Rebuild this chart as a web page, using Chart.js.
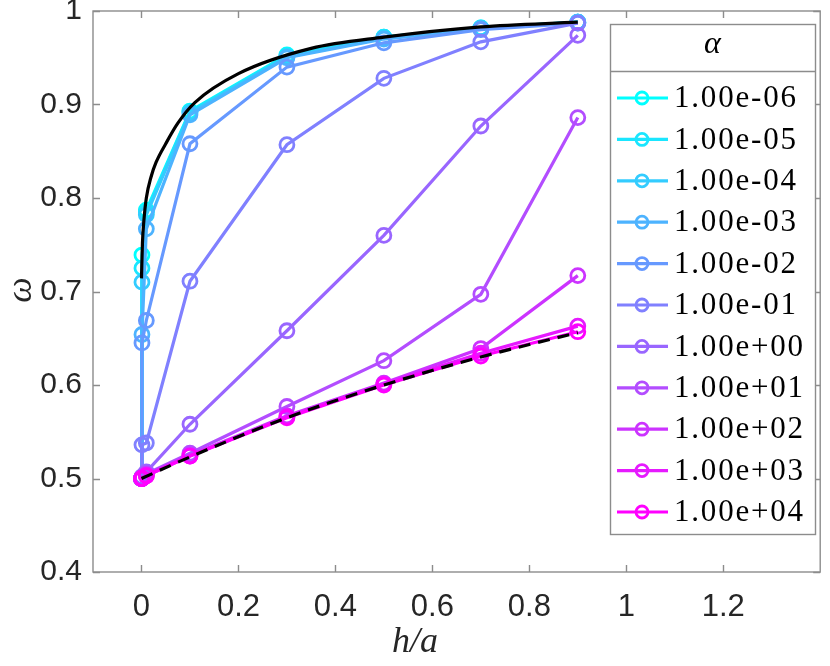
<!DOCTYPE html>
<html><head><meta charset="utf-8">
<script src="https://cdn.jsdelivr.net/npm/chart.js@4.4.1/dist/chart.umd.min.js"></script>
<style>html,body{margin:0;padding:0;background:#fff;}</style>
</head><body>
<canvas id="c" width="830" height="666"></canvas>
<script>
// ---------- data ----------
const H = [0, 0.001, 0.01, 0.1, 0.3, 0.5, 0.7, 0.9];
const alphaLabels = ['1.00e-06','1.00e-05','1.00e-04','1.00e-03','1.00e-02','1.00e-01','1.00e+00','1.00e+01','1.00e+02','1.00e+03','1.00e+04'];
const seriesColors = ['#00ffff','#1ae6ff','#33ccff','#4db3ff','#6699ff','#8080ff','#9966ff','#b34dff','#cc33ff','#e61aff','#ff00ff'];
const w_1e_06 = [0.5, 0.739, 0.787, 0.893, 0.953, 0.972, 0.982, 0.988];
const w_1e_05 = [0.5, 0.725, 0.785, 0.892, 0.952, 0.972, 0.982, 0.988];
const w_1e_04 = [0.5, 0.710, 0.782, 0.891, 0.951, 0.971, 0.981, 0.988];
const w_1e_03 = [0.5, 0.654, 0.767, 0.889, 0.950, 0.970, 0.981, 0.988];
const w_1e_02 = [0.5, 0.645, 0.669, 0.858, 0.940, 0.966, 0.980, 0.987];
const w_1e_01 = [0.5, 0.536, 0.538, 0.711, 0.857, 0.928, 0.967, 0.987];
const w_1e00  = [0.5, 0.502, 0.507, 0.558, 0.658, 0.760, 0.877, 0.974];
const w_1e01  = [0.5, 0.501, 0.505, 0.527, 0.577, 0.626, 0.697, 0.886];
const w_1e02  = [0.5, 0.500, 0.504, 0.525, 0.567, 0.602, 0.639, 0.717];
const w_1e03  = [0.5, 0.500, 0.503, 0.524, 0.566, 0.601, 0.634, 0.663];
const w_1e04  = [0.5, 0.500, 0.503, 0.524, 0.565, 0.600, 0.631, 0.657];
const seriesValues = [w_1e_06, w_1e_05, w_1e_04, w_1e_03, w_1e_02, w_1e_01, w_1e00, w_1e01, w_1e02, w_1e03, w_1e04];

// limit curves
const limitLowX = [0, 0.002, 0.005, 0.01, 0.02, 0.03, 0.05, 0.075, 0.11, 0.2, 0.35, 0.5, 0.7, 0.9];
const limitLowY = [0.714, 0.752, 0.776, 0.800, 0.823, 0.838, 0.858, 0.880, 0.902, 0.933, 0.960, 0.972, 0.983, 0.988];
const limitHighX = [0, 0.1, 0.3, 0.5, 0.7, 0.9];
const limitHighY = [0.5, 0.523, 0.565, 0.600, 0.630, 0.656];

const xTicks = [0, 0.2, 0.4, 0.6, 0.8, 1, 1.2];
const yTicks = [0.4, 0.5, 0.6, 0.7, 0.8, 0.9, 1];

// ---------- datasets ----------
const datasets = seriesValues.map((vals, i) => ({
  label: alphaLabels[i],
  data: H.map((h, k) => ({x: h, y: vals[k]})),
  borderColor: seriesColors[i],
  backgroundColor: 'transparent',
  borderWidth: 3.2,
  pointRadius: 7,
  pointBorderWidth: 2.8,
  pointBackgroundColor: 'transparent',
  pointBorderColor: seriesColors[i],
  tension: 0,
  order: 20 - i
}));
datasets.push({
  label: 'lowlimit',
  data: limitLowX.map((x, k) => ({x, y: limitLowY[k]})),
  borderColor: '#000', borderWidth: 3.2, pointRadius: 0,
  cubicInterpolationMode: 'monotone', order: 1
});
datasets.push({
  label: 'highlimit',
  data: limitHighX.map((x, k) => ({x, y: limitHighY[k]})),
  borderColor: '#000', borderWidth: 3.2, pointRadius: 0, borderDash: [12, 8],
  cubicInterpolationMode: 'monotone', order: 0
});

// ---------- plugin: box, inward ticks, legend, titles ----------
const framePlugin = {
  id: 'frame',
  afterDraw(chart) {
    const ctx = chart.ctx, a = chart.chartArea;
    const xs = chart.scales.x, ys = chart.scales.y;
    ctx.save();
    // box
    ctx.strokeStyle = '#8c8c8c';
    ctx.lineWidth = 1.4;
    ctx.strokeRect(a.left, a.top, a.right - a.left, a.bottom - a.top);
    // ticks inward
    const tl = 7;
    ctx.beginPath();
    xTicks.forEach(v => {
      const px = Math.round(xs.getPixelForValue(v)) + 0.5;
      ctx.moveTo(px, a.bottom); ctx.lineTo(px, a.bottom - tl);
      ctx.moveTo(px, a.top); ctx.lineTo(px, a.top + tl);
    });
    yTicks.forEach(v => {
      const py = Math.round(ys.getPixelForValue(v)) + 0.5;
      ctx.moveTo(a.left, py); ctx.lineTo(a.left + tl, py);
      ctx.moveTo(a.right, py); ctx.lineTo(a.right - tl, py);
    });
    ctx.stroke();

    // legend
    const L = 610, R = 815, T = 24, B = 534, sep = 71;
    ctx.fillStyle = '#fff';
    ctx.fillRect(L, T, R - L, B - T);
    ctx.strokeStyle = '#8c8c8c';
    ctx.lineWidth = 1.4;
    ctx.strokeRect(L + 0.5, T + 0.5, R - L, B - T);
    ctx.beginPath(); ctx.moveTo(L, sep + 0.5); ctx.lineTo(R, sep + 0.5); ctx.stroke();
    ctx.fillStyle = '#000';
    ctx.font = 'italic 32px "Liberation Serif"';
    ctx.textAlign = 'center'; ctx.textBaseline = 'middle';
    ctx.fillText('α', (L + R) / 2, 45);
    ctx.font = '31px "Liberation Serif"';
    ctx.textAlign = 'left';
    if ('letterSpacing' in ctx) ctx.letterSpacing = '1.8px';
    alphaLabels.forEach((lab, i) => {
      const y = 98 + i * 41.4;
      ctx.strokeStyle = seriesColors[i];
      ctx.lineWidth = 3.2;
      ctx.beginPath(); ctx.moveTo(617, y); ctx.lineTo(668, y); ctx.stroke();
      ctx.lineWidth = 2.8;
      ctx.beginPath(); ctx.arc(642, y, 6, 0, Math.PI * 2); ctx.stroke();
      ctx.fillStyle = '#000';
      ctx.fillText(lab, 674, y + 1);
    });
    if ('letterSpacing' in ctx) ctx.letterSpacing = '0px';

    // axis titles
    ctx.fillStyle = '#262626';
    ctx.font = 'italic 36px "Liberation Serif"';
    ctx.textAlign = 'center'; ctx.textBaseline = 'middle';
    ctx.fillText('h/a', 415, 643);
    ctx.save();
    ctx.translate(22, 290);
    ctx.rotate(-Math.PI / 2);
    ctx.fillText('ω', 0, 0);
    ctx.restore();
    ctx.restore();
  }
};

new Chart(document.getElementById('c').getContext('2d'), {
  type: 'line',
  data: { datasets },
  options: {
    responsive: false, animation: false, devicePixelRatio: 1,
    layout: { padding: { top: 11, right: 2, left: 0, bottom: 0 } },
    plugins: { legend: { display: false }, tooltip: { enabled: false } },
    scales: {
      x: {
        type: 'linear', min: -0.1, max: 1.4,
        afterBuildTicks: s => { s.ticks = xTicks.map(v => ({ value: v })); },
        afterFit: s => { s.height = 94; s.paddingLeft = 0; s.paddingRight = 0; },
        grid: { display: false, drawTicks: false }, border: { display: false },
        ticks: { color: '#262626', font: { family: '"Liberation Sans"', size: 31 }, padding: 17,
                 maxRotation: 0, autoSkip: false, callback: v => String(+(+v).toFixed(1)) }
      },
      y: {
        type: 'linear', min: 0.4, max: 1,
        afterBuildTicks: s => { s.ticks = yTicks.map(v => ({ value: v })); },
        afterFit: s => { s.width = 93; s.paddingTop = 0; s.paddingBottom = 0; },
        grid: { display: false, drawTicks: false }, border: { display: false },
        ticks: { color: '#262626', font: { family: '"Liberation Sans"', size: 30 }, padding: 11,
                 autoSkip: false, callback: v => String(+(+v).toFixed(1)) }
      }
    }
  },
  plugins: [framePlugin]
});
</script>
</body></html>
